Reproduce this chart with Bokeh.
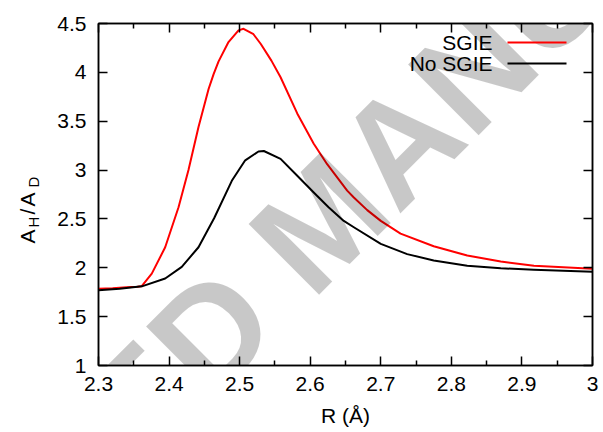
import math
from bokeh.plotting import figure
from bokeh.layouts import row
from bokeh.models import (Range1d, FixedTicker, LinearAxis, Label, Arrow,
                          CustomJSTickFormatter)
from bokeh.embed import file_html
from bokeh.resources import INLINE

# ---- data ----
r_sgie = [2.300, 2.320, 2.340, 2.355, 2.361, 2.3755, 2.3945, 2.4134, 2.4275,
          2.4417, 2.456, 2.463, 2.470, 2.4842, 2.4984, 2.5055, 2.5196, 2.530,
          2.545, 2.558, 2.5816, 2.605, 2.624, 2.6524, 2.6618, 2.6808, 2.700,
          2.728, 2.775, 2.8225, 2.870, 2.917, 3.000]
ratio_sgie = [1.785, 1.790, 1.800, 1.805, 1.810, 1.940, 2.210, 2.620, 3.000,
              3.440, 3.830, 3.980, 4.110, 4.310, 4.430, 4.446, 4.390, 4.290,
              4.120, 3.950, 3.580, 3.270, 3.060, 2.790, 2.720, 2.590, 2.480,
              2.350, 2.220, 2.125, 2.064, 2.020, 1.990]

r_nosgie = [2.300, 2.330, 2.3614, 2.3945, 2.418, 2.4417, 2.464, 2.4889, 2.5079,
            2.5267, 2.5343, 2.558, 2.582, 2.605, 2.626, 2.6476, 2.6618, 2.700,
            2.7374, 2.775, 2.8225, 2.870, 2.917, 3.000]
ratio_nosgie = [1.770, 1.785, 1.810, 1.890, 2.010, 2.210, 2.510, 2.890, 3.100,
                3.190, 3.195, 3.115, 2.940, 2.770, 2.620, 2.480, 2.415, 2.245,
                2.140, 2.074, 2.020, 1.995, 1.979, 1.960]

series_names = ["SGIE", "No SGIE"]
series_colors = ["#ff0000", "#000000"]

x_ticks = [2.3, 2.4, 2.5, 2.6, 2.7, 2.8, 2.9, 3.0]
x_tick_labels = ["2.3", "2.4", "2.5", "2.6", "2.7", "2.8", "2.9", "3"]
x_minor = [2.35, 2.45, 2.55, 2.65, 2.75, 2.85, 2.95]
y_ticks = [1.0, 1.5, 2.0, 2.5, 3.0, 3.5, 4.0, 4.5]
y_tick_labels = ["1", "1.5", "2", "2.5", "3", "3.5", "4", "4.5"]

FONT = "Liberation Sans"
FS = "21px"
H = 432
LW = 45          # width of the strip that carries the y-axis title
FL, FT, FB = 98, 23, 365   # frame left / top / bottom in page pixels

# ---- strip with the rotated y title A_H/A_D (its frame is aligned with the
#      main plot's frame by the row layout) ----
lf = figure(width=LW, height=H, output_backend="svg", toolbar_location=None,
            x_range=Range1d(0, 1), y_range=Range1d(0, 1),
            x_axis_location=None, y_axis_location=None,
            min_border=0, min_border_left=0, min_border_right=0,
            min_border_top=0, min_border_bottom=0)
lf.grid.visible = False
lf.outline_line_color = None
lf.background_fill_color = "white"
lf.border_fill_color = "white"

parts = [("A", 243, 21, 27), ("H", 227, 15, 33), ("/", 214, 21, 27),
         ("A", 206, 21, 27), ("D", 187, 15, 33)]
for txt, ypos, fs, xpos in parts:
    lf.add_layout(Label(x=xpos, y=FB - ypos, x_units="screen",
                        y_units="screen", text=txt, angle=math.pi / 2,
                        text_align="left", text_baseline="alphabetic",
                        text_font=FONT, text_font_size=f"{fs}px",
                        text_color="black"))

# ---- main plot ----
p = figure(width=603 - LW, height=H, output_backend="svg",
           toolbar_location=None,
           x_range=Range1d(2.3, 3.0), y_range=Range1d(1.0, 4.5),
           min_border_left=FL - LW, min_border_right=11, min_border_top=FT,
           min_border_bottom=H - FB)
p.grid.visible = False
p.outline_line_color = "black"
p.outline_line_width = 1.5
p.background_fill_color = "white"
p.border_fill_color = "white"

xt = FixedTicker(ticks=x_ticks, minor_ticks=x_minor)
yt = FixedTicker(ticks=y_ticks, minor_ticks=[])


def style(ax, show_labels):
    ax.axis_line_color = "black"
    ax.axis_line_width = 1.5
    ax.major_tick_line_color = "black"
    ax.major_tick_line_width = 1.5
    ax.minor_tick_line_color = "black"
    ax.minor_tick_line_width = 1.5
    ax.major_tick_in = 9
    ax.major_tick_out = 0
    ax.minor_tick_in = 5
    ax.minor_tick_out = 0
    ax.major_label_text_font = FONT
    ax.major_label_text_font_size = FS
    ax.major_label_text_color = "black"
    if not show_labels:
        ax.formatter = CustomJSTickFormatter(code="return ''")
        ax.major_label_text_font_size = "0px"
        ax.major_label_standoff = 0


xa = p.xaxis[0]
xa.ticker = xt
xa.major_label_overrides = {t: s for t, s in zip(x_ticks, x_tick_labels)}
style(xa, True)
xa.major_label_standoff = 11
xa.axis_label = "R (Å)"
xa.axis_label_text_font = FONT
xa.axis_label_text_font_size = FS
xa.axis_label_text_font_style = "normal"
xa.axis_label_text_color = "black"
xa.axis_label_standoff = 10

ya = p.yaxis[0]
ya.ticker = yt
ya.major_label_overrides = {t: s for t, s in zip(y_ticks, y_tick_labels)}
style(ya, True)
ya.major_label_standoff = 12

top = LinearAxis(ticker=xt)
style(top, False)
p.add_layout(top, "above")
right = LinearAxis(ticker=yt)
style(right, False)
p.add_layout(right, "right")

# curves
p.line(r_sgie, ratio_sgie, line_color=series_colors[0], line_width=2,
       line_join="round")
p.line(r_nosgie, ratio_nosgie, line_color=series_colors[1], line_width=2,
       line_join="round")

# watermark (translucent, so the curves still show through)
p.add_layout(Label(x=322 - FL, y=FB - 220, x_units="screen", y_units="screen",
                   text="ACCEPTED MANUSCRIPT", angle=math.pi / 4,
                   text_align="center", text_baseline="middle",
                   text_font=FONT, text_font_style="bold",
                   text_font_size="145px", text_color="#000000",
                   text_alpha=0.215, level="annotation"))

# legend: text then line sample (frame-relative screen coords)
for i, (name, col) in enumerate(zip(series_names, series_colors)):
    ys = FB - (42 + 21 * i)
    p.add_layout(Label(x=492 - FL, y=ys, x_units="screen", y_units="screen",
                       text=name, text_align="right", text_baseline="middle",
                       text_font=FONT, text_font_size=FS, text_color="black"))
    p.add_layout(Arrow(x_start=507 - FL, y_start=ys, x_end=566 - FL, y_end=ys,
                       start_units="screen", end_units="screen", end=None,
                       line_color=col, line_width=2))

layout = row(lf, p, spacing=0)
open("out.html", "w").write(file_html(layout, INLINE))
